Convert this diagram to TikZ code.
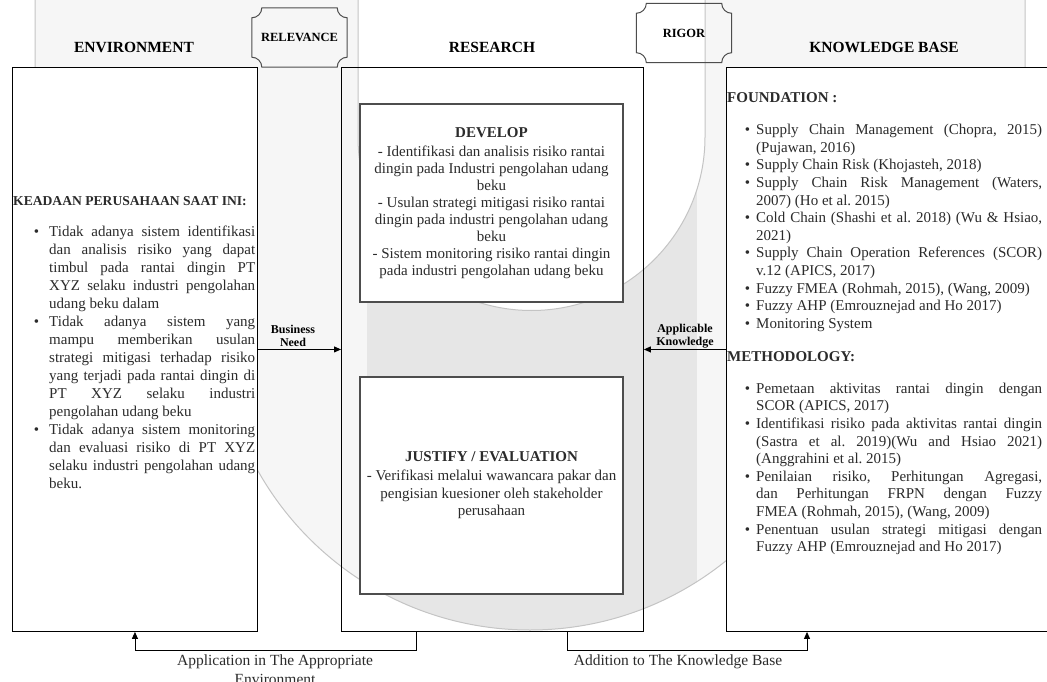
\documentclass[tikz,border=0pt]{standalone}
\usepackage{fontspec}
\setmainfont{Liberation Serif}
\usepackage{xcolor}
\definecolor{cText}{HTML}{2B2B2B}
\definecolor{cFrame}{HTML}{4D4D4D}
\definecolor{cWmLight}{HTML}{F6F6F6}
\definecolor{cWmDark}{HTML}{E6E6E6}
\definecolor{cWmEdge}{HTML}{C4C4C4}
\usepackage{tikz}
\usetikzlibrary{positioning,arrows.meta,calc}
\tikzset{
  col-box/.style={draw=black,line width=0.9pt,anchor=north west,inner sep=0pt,
    minimum width=245pt,minimum height=564pt},
  step-box/.style={draw=cFrame,line width=1.3pt,fill=white,align=center,
    minimum width=263pt,text=cText,font=\fontsize{15}{17}\selectfont},
  heading/.style={font=\bfseries\fontsize{15.5}{18}\selectfont,inner sep=0pt},
  plaque/.style={font=\bfseries\fontsize{12.5}{15}\selectfont,inner sep=0pt,
    minimum width=95pt,minimum height=59pt},
  plaque-line/.style={draw=cFrame,line width=1pt},
  body-text/.style={anchor=north west,inner sep=0pt,text=cText,align=justify,
    font=\fontsize{15}{17.6}\selectfont},
  flow-label/.style={align=center,inner sep=0pt,font=\bfseries\fontsize{12}{13.5}\selectfont},
  loop-label/.style={align=center,inner sep=0pt,anchor=north,text=cText,
    font=\fontsize{15.5}{18.5}\selectfont},
  arrow/.style={-{Triangle[length=7pt,width=6pt]},line width=0.9pt,draw=black},
  % logo watermark behind the columns
  wm-edge/.style={draw=cWmEdge,line width=1pt},
}
% bullet hanging into the left skip
\newcommand{\bitem}[1][10pt]{\noindent\llap{\textbullet\hspace{#1}}\ignorespaces}
\newcommand{\bodysetup}{\frenchspacing\tolerance=10000\hyphenpenalty=10000\exhyphenpenalty=10000\parindent=0pt}
% frame with concave corners round a named node
\newcommand{\plaqueframe}[1]{%
  \draw[plaque-line] ([xshift=10pt]#1.north west) -- ([xshift=-10pt]#1.north east)
    arc (180:90:10) -- ([yshift=10pt]#1.south east)
    arc (270:180:10) -- ([xshift=10pt]#1.south west)
    arc (0:-90:10) -- ([yshift=-10pt]#1.north west)
    arc (90:0:10) -- cycle;}

\begin{document}
\begin{tikzpicture}[x=1pt,y=-1pt]
  \useasboundingbox (0,0) rectangle (1047,682);
  \clip (0,0) rectangle (1047,682);

  % watermark
  \fill[cWmLight] (35,-5) -- (35,318) -- (218,318) arc (180:0:312) -- (1025,318) -- (1025,-5) -- cycle;
  \begin{scope}
    \clip (35,-5) -- (35,318) -- (218,318) arc (180:0:312) -- (1025,318) -- (1025,-5) -- cycle;
    \fill[cWmDark] (367,-5) rectangle (697,700);
  \end{scope}
  \draw[wm-edge] (35,-5) -- (35,318) -- (218,318) arc (180:0:312) -- (1025,318) -- (1025,-5);
  \filldraw[wm-edge,fill=white] (358,-5) -- (358,137) arc (180:0:173.5) -- (705,-5);

  % columns
  \node[col-box,fill=white]                    (env)      at (12,67)  {};
  \node[col-box,minimum width=302pt]           (research) at (341,67) {};
  \node[col-box,fill=white,minimum width=334pt] (kb)      at (726,67) {};

  \node[heading] (envtitle) at (134,47) {ENVIRONMENT};
  \node[heading] (restitle) at (492,47) {RESEARCH};
  \node[heading] (kbtitle)  at (884,47) {KNOWLEDGE BASE};

  \node[plaque] (relevance) at (299.5,37.5) {RELEVANCE};
  \node[plaque] (rigor)     at (684,33)     {RIGOR};
  \plaqueframe{relevance}
  \plaqueframe{rigor}

  \node[step-box,minimum height=198pt] (develop) at (491.5,203) {%
    \textbf{DEVELOP}\\[2pt]
    - Identifikasi dan analisis risiko rantai\\
    dingin pada Industri pengolahan udang\\
    beku\\
    - Usulan strategi mitigasi risiko rantai\\
    dingin pada industri pengolahan udang\\
    beku\\
    - Sistem monitoring risiko rantai dingin\\
    pada industri pengolahan udang beku};
  \node[step-box,minimum height=217pt,font=\fontsize{15}{17.5}\selectfont] (justify) at (491.5,485.5) {%
    \textbf{JUSTIFY / EVALUATION}\\[1.5pt]
    - Verifikasi melalui wawancara pakar dan\\
    pengisian kuesioner oleh stakeholder\\
    perusahaan};

  \node[body-text,text width=242pt,font=\fontsize{15}{18}\selectfont] (envtext) at (13,196) {\bodysetup
    \mbox{\bfseries\fontsize{13.6}{18}\selectfont KEADAAN PERUSAHAAN SAAT INI:}\par\vspace{13pt}
    \leftskip=36pt
    \bitem Tidak adanya sistem identifikasi\linebreak dan analisis risiko yang dapat\linebreak
      timbul pada rantai dingin PT\linebreak XYZ selaku industri pengolahan\linebreak udang beku dalam\par
    \bitem Tidak adanya sistem yang\linebreak mampu memberikan usulan\linebreak
      strategi mitigasi terhadap risiko\linebreak yang terjadi pada rantai dingin di\linebreak
      PT XYZ selaku industri\linebreak pengolahan udang beku\par
    \bitem Tidak adanya sistem monitoring\linebreak dan evaluasi risiko di PT XYZ\linebreak
      selaku industri pengolahan udang\linebreak beku.\par};

  \node[body-text,text width=315pt] (found) at (727,92) {\bodysetup
    {\bfseries FOUNDATION :}\par\vspace{15pt}
    \leftskip=29pt
    \bitem[6pt] Supply Chain Management (Chopra, 2015)\linebreak (Pujawan, 2016)\par
    \bitem[6pt] Supply Chain Risk (Khojasteh, 2018)\par
    \bitem[6pt] Supply Chain Risk Management (Waters,\linebreak 2007) (Ho et al. 2015)\par
    \bitem[6pt] Cold Chain (Shashi et al. 2018) (Wu \& Hsiao,\linebreak 2021)\par
    \bitem[6pt] Supply Chain Operation References (SCOR)\linebreak v.12 (APICS, 2017)\par
    \bitem[6pt] Fuzzy FMEA (Rohmah, 2015), (Wang, 2009)\par
    \bitem[6pt] Fuzzy AHP (Emrouznejad and Ho 2017)\par
    \bitem[6pt] Monitoring System\par};

  \node[body-text,text width=315pt] (method) at (727,351) {\bodysetup
    {\bfseries METHODOLOGY:}\par\vspace{14.5pt}
    \leftskip=29pt
    \bitem[6pt] Pemetaan aktivitas rantai dingin dengan\linebreak SCOR (APICS, 2017)\par
    \bitem[6pt] Identifikasi risiko pada aktivitas rantai dingin\linebreak
      (Sastra et al. 2019)(Wu and Hsiao 2021)\linebreak (Anggrahini et al. 2015)\par
    \bitem[6pt] Penilaian risiko, Perhitungan Agregasi,\linebreak
      dan Perhitungan FRPN dengan Fuzzy\linebreak FMEA (Rohmah, 2015), (Wang, 2009)\par
    \bitem[6pt] Penentuan usulan strategi mitigasi dengan\linebreak
      Fuzzy AHP (Emrouznejad and Ho 2017)\par};

  % flows
  \draw[arrow] (env.east) -- (research.west);
  \draw[arrow] (kb.west) -- (research.east);
  \node[flow-label] (need)  at (293,336) {Business\\Need};
  \node[flow-label] (apply) at (685,336) {Applicable\\Knowledge};

  \draw[arrow] ([xshift=-76pt]research.south) -- ++(0,19) -| (env.south);
  \draw[arrow] ([xshift=75pt]research.south) -- ++(0,19) -| ([xshift=81pt]kb.south west);
  \node[loop-label] (appenv) at (275,655) {Application in The Appropriate\\Environment};
  \node[loop-label] (addkb)  at (678,655) {Addition to The Knowledge Base};
\end{tikzpicture}
\end{document}
